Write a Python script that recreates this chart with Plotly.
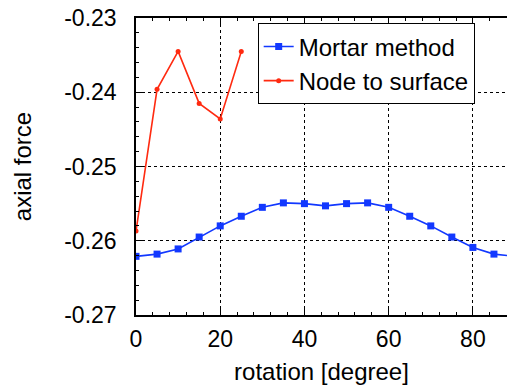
import plotly.graph_objects as go

rotation_mortar = [0, 5, 10, 15, 20, 25, 30, 35, 40, 45, 50, 55, 60, 65, 70, 75, 80, 85, 90]
force_mortar = [-0.2621, -0.2618, -0.2611, -0.2595, -0.2580, -0.2567, -0.2555, -0.2549, -0.2550,
                -0.2553, -0.2550, -0.2549, -0.2555, -0.2567, -0.2580, -0.2595, -0.2609, -0.2618, -0.2621]
rotation_nts = [0, 5, 10, 15, 20, 25]
force_nts = [-0.2587, -0.2396, -0.2345, -0.2415, -0.2436, -0.2345]

x_ticks = [0, 20, 40, 60, 80]
x_ticklabels = ["0", "20", "40", "60", "80"]
y_ticks = [-0.27, -0.26, -0.25, -0.24, -0.23]
y_ticklabels = ["-0.27", "-0.26", "-0.25", "-0.24", "-0.23"]

FONT = "Liberation Sans, Arial, Helvetica, sans-serif"
BLUE = "#1238ff"
RED = "#ff2a10"

fig = go.Figure()
fig.add_trace(go.Scatter(x=rotation_mortar, y=force_mortar, mode="lines+markers",
                         name="Mortar method",
                         line=dict(color=BLUE, width=1.6),
                         marker=dict(symbol="square", size=7, color=BLUE)))
fig.add_trace(go.Scatter(x=rotation_nts, y=force_nts, mode="lines+markers",
                         name="Node to surface",
                         line=dict(color=RED, width=1.6),
                         marker=dict(symbol="circle", size=5, color=RED)))

fig.update_layout(
    width=507, height=389,
    margin=dict(l=136, r=0, t=18, b=74),
    paper_bgcolor="white", plot_bgcolor="white",
    font=dict(family=FONT, size=23, color="black"),
    showlegend=True,
    legend=dict(x=0.328, y=0.982, xanchor="left", yanchor="top",
                bordercolor="black", borderwidth=1, bgcolor="white",
                font=dict(family=FONT, size=24)),
)
fig.update_xaxes(
    range=[0, 88.1], tickvals=x_ticks, ticktext=x_ticklabels,
    showline=True, linecolor="black", linewidth=1.5, mirror="allticks",
    ticks="inside", ticklen=6, tickcolor="black", tickwidth=1,
    minor=dict(dtick=4, tick0=0, ticks="inside", ticklen=3, tickcolor="black", showgrid=False),
    showgrid=True, gridcolor="black", griddash="dot", gridwidth=1,
    zeroline=False, ticklabelstandoff=3,
    tickfont=dict(size=23),
    title=dict(text="rotation [degree]", standoff=12, font=dict(size=24)),
)
fig.update_yaxes(
    range=[-0.27, -0.23], tickvals=y_ticks, ticktext=y_ticklabels,
    showline=True, linecolor="black", linewidth=1.5, mirror=False,
    ticks="inside", ticklen=6, tickcolor="black", tickwidth=1,
    minor=dict(dtick=0.002, tick0=-0.27, ticks="inside", ticklen=3, tickcolor="black", showgrid=False),
    showgrid=True, gridcolor="black", griddash="dot", gridwidth=1,
    zeroline=False, ticklabelstandoff=13,
    tickfont=dict(size=23),
    title=dict(text="axial force", standoff=26, font=dict(size=24)),
)

fig.write_html("out.html")
